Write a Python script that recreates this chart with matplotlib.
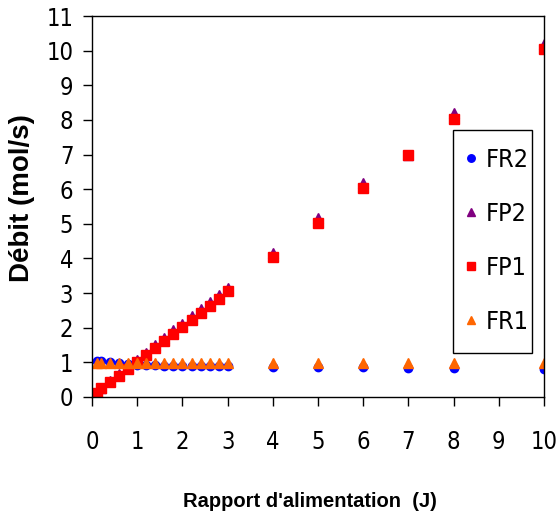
import matplotlib
matplotlib.use('Agg')
import matplotlib.pyplot as plt
from matplotlib.patches import Rectangle

# rapport d'alimentation J
j_vals = [0.1, 0.2, 0.4, 0.6, 0.8, 1.0, 1.2, 1.4, 1.6, 1.8, 2.0, 2.2, 2.4, 2.6, 2.8, 3.0,
          4, 5, 6, 7, 8, 10]
fr2 = [1.05, 1.03, 1.0, 0.98, 0.95, 0.93, 0.92, 0.91, 0.9, 0.9, 0.9, 0.9, 0.9, 0.9, 0.9, 0.9,
       0.88, 0.87, 0.86, 0.85, 0.84, 0.8]
fp2 = [0.08, 0.25, 0.45, 0.65, 0.86, 1.07, 1.28, 1.5, 1.7, 1.92, 2.12, 2.33, 2.53, 2.75, 2.95, 3.15,
       4.15, 5.17, 6.18, 7.0, 8.2, 10.2]
fp1 = [0.12, 0.25, 0.42, 0.62, 0.82, 1.02, 1.22, 1.42, 1.62, 1.82, 2.02, 2.22, 2.42, 2.62, 2.82, 3.05,
       4.03, 5.02, 6.02, 7.0, 8.02, 10.05]
fr1 = [0.98, 0.98, 0.98, 0.98, 0.98, 0.98, 0.98, 0.98, 0.98, 0.98, 0.98, 0.98, 0.98, 0.98, 0.98, 0.98,
       0.98, 0.98, 0.98, 0.98, 0.98, 0.98]

x_ticks = list(range(0, 11))
y_ticks = list(range(0, 12))

fig = plt.figure(figsize=(5.58, 5.24), dpi=100)
ax = fig.add_axes([0.165, 0.2424, 0.81, 0.727])

ax.plot(j_vals, fr2, 'o', color='#0000FF', markersize=6, linestyle='none', label='FR2')
ax.plot(j_vals, fp2, '^', color='#800080', markersize=7, linestyle='none', label='FP2')
ax.plot(j_vals, fp1, 's', color='#FF0000', markersize=7, linestyle='none', label='FP1')
ax.plot(j_vals, fr1, '^', color='#FF6600', markersize=7, linestyle='none', label='FR1')

ax.set_xlim(0, 10)
ax.set_ylim(0, 11)
ax.set_xticks(x_ticks)
ax.set_yticks(y_ticks)

tick_font = {'family': ['DejaVu Sans'], 'stretch': 'condensed', 'size': 17}
ax.set_xticklabels([str(v) for v in x_ticks], fontdict=tick_font)
ax.set_yticklabels([str(v) for v in y_ticks], fontdict=tick_font)
ax.tick_params(direction='out', length=6.5, width=1)
ax.tick_params(axis='x', pad=17)
ax.tick_params(axis='y', pad=7)

for s in ax.spines.values():
    s.set_linewidth(1)

lab_font = {'family': ['Liberation Sans', 'DejaVu Sans'], 'size': 14.5, 'weight': 'bold'}
ax.set_xlabel("Rapport d'alimentation  (J)", fontdict=lab_font)
ax.xaxis.set_label_coords(0.482, -0.25)
ax.set_ylabel("Débit (mol/s)", fontdict={**lab_font, 'size': 20})
ax.yaxis.set_label_coords(-0.126, 0.521)

# cadre de la legende
ax.add_patch(Rectangle((0.799, 0.115), 0.174, 0.586, transform=ax.transAxes,
                       facecolor='white', edgecolor='black', linewidth=1, zorder=3))
leg = ax.legend(loc='upper left', bbox_to_anchor=(0.799, 0.668), frameon=False,
                prop={'family': ['DejaVu Sans'], 'stretch': 'condensed', 'size': 18},
                handletextpad=0.1, labelspacing=1.2, borderpad=0.2, handlelength=1.0,
                borderaxespad=0, markerscale=0.9)
leg.set_zorder(4)

fig.savefig('out.png', dpi=100)
